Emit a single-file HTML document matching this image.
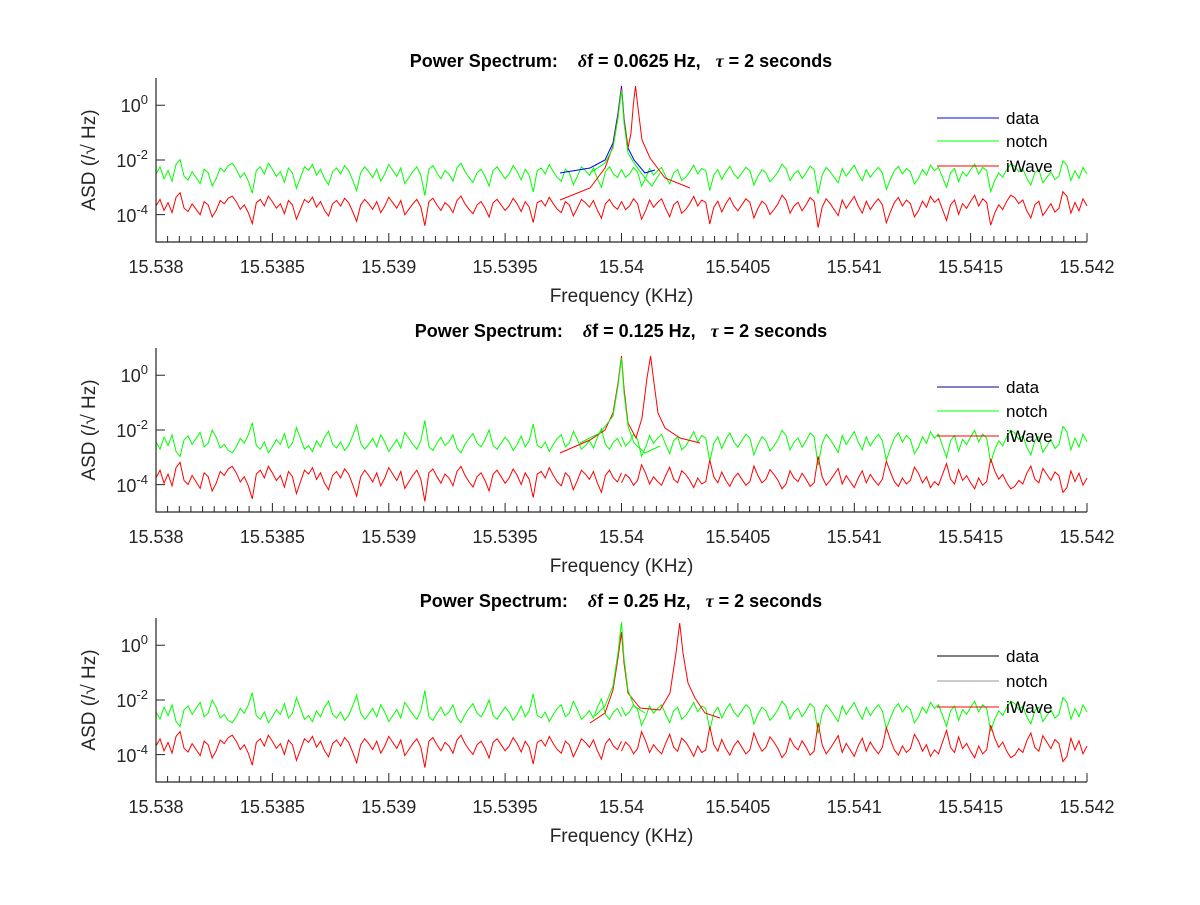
<!DOCTYPE html>
<html><head><meta charset="utf-8"><style>
body{margin:0;background:#fff;}
text{font-family:"Liberation Sans",sans-serif;fill:#262626;}
.t{font-size:18px;font-weight:bold;fill:#000;}
.k{font-size:18px;}
.l{font-size:19px;}
.g{font-size:17px;fill:#000;}
</style></head><body>
<svg width="1200" height="900" xmlns="http://www.w3.org/2000/svg" xmlns:xlink="http://www.w3.org/1999/xlink">
<defs>
<polyline id="n" fill="none" vector-effect="non-scaling-stroke" points="0,0 1,-6 2,4 3,-3 4,6 5,-8 6,-12 7,2 8,5 9,-2 10,3 11,8 12,-4 13,-1 14,10 15,4 16,-5 17,-2 18,-7 19,-9 20,-4 21,3 22,-1 23,6 24,16 25,-3 26,-6 27,0 28,-9 29,-4 30,2 31,-2 32,7 33,-5 34,-1 35,12 36,3 37,-6 38,-3 39,-8 40,1 41,-4 42,4 43,9 44,-2 45,-5 46,0 47,-7 48,-3 49,5 50,14 51,-1 52,-6 53,-2 54,3 55,-4 56,6 57,0 58,-8 59,-3 60,2 61,-5 62,8 63,3 64,-2 65,-6 66,1 67,18 68,-4 69,-7 70,-1 71,4 72,-3 73,0 74,6 75,-5 76,-9 77,-2 78,3 79,7 80,-1 81,-4 82,2 83,10 84,-3 85,-6 86,-1 87,4 88,0 89,-7 90,-2 91,5 92,-4 93,1 94,15 95,-3 96,-5 97,0 98,-8 99,-2 100,3 101,6 102,-4 103,-1 104,9 105,2 106,-6 107,-3 108,1 109,-5 110,4 111,11 112,-2 113,-6 114,0 115,3 116,-4"/>
<g id="ax" fill="none" stroke="#262626">
<path d="M156 0V164H1087" stroke-width="1.2"/>
<path d="M156 164v-9M272.4 164v-9M388.8 164v-9M505.1 164v-9M621.5 164v-9M737.9 164v-9M854.3 164v-9M970.6 164v-9M1087 164v-9M156 27.3h9M156 82h9M156 136.6h9"/>
<path d="M167.6 164v-6M179.3 164v-6M190.9 164v-6M202.6 164v-6M214.2 164v-6M225.8 164v-6M237.5 164v-6M249.1 164v-6M260.8 164v-6M284 164v-6M295.7 164v-6M307.3 164v-6M319 164v-6M330.6 164v-6M342.2 164v-6M353.9 164v-6M365.5 164v-6M377.2 164v-6M400.4 164v-6M412.1 164v-6M423.7 164v-6M435.4 164v-6M447 164v-6M458.6 164v-6M470.3 164v-6M481.9 164v-6M493.5 164v-6M516.8 164v-6M528.4 164v-6M540.1 164v-6M551.7 164v-6M563.4 164v-6M575 164v-6M586.6 164v-6M598.3 164v-6M609.9 164v-6M633.1 164v-6M644.8 164v-6M656.4 164v-6M668.1 164v-6M679.7 164v-6M691.4 164v-6M703 164v-6M714.6 164v-6M726.3 164v-6M749.6 164v-6M761.2 164v-6M772.8 164v-6M784.5 164v-6M796.1 164v-6M807.8 164v-6M819.4 164v-6M831 164v-6M842.7 164v-6M865.9 164v-6M877.6 164v-6M889.2 164v-6M900.8 164v-6M912.5 164v-6M924.1 164v-6M935.8 164v-6M947.4 164v-6M959 164v-6M982.3 164v-6M993.9 164v-6M1005.6 164v-6M1017.2 164v-6M1028.8 164v-6M1040.5 164v-6M1052.1 164v-6M1063.8 164v-6M1075.4 164v-6"/>
</g>
<g id="tx">
<text class="k" x="156" y="195" text-anchor="middle">15.538</text>
<text class="k" x="272.4" y="195" text-anchor="middle">15.5385</text>
<text class="k" x="388.8" y="195" text-anchor="middle">15.539</text>
<text class="k" x="505.1" y="195" text-anchor="middle">15.5395</text>
<text class="k" x="621.5" y="195" text-anchor="middle">15.54</text>
<text class="k" x="737.9" y="195" text-anchor="middle">15.5405</text>
<text class="k" x="854.3" y="195" text-anchor="middle">15.541</text>
<text class="k" x="970.6" y="195" text-anchor="middle">15.5415</text>
<text class="k" x="1087" y="195" text-anchor="middle">15.542</text>
<text class="k" x="148" y="34" text-anchor="end">10<tspan dy="-8" font-size="13">0</tspan></text>
<text class="k" x="148" y="89" text-anchor="end">10<tspan dy="-8" font-size="13">-2</tspan></text>
<text class="k" x="148" y="144" text-anchor="end">10<tspan dy="-8" font-size="13">-4</tspan></text>
<text class="l" transform="translate(95 82) rotate(-90)" text-anchor="middle">ASD (/√ Hz)</text>
<text class="l" x="621.5" y="224" text-anchor="middle">Frequency (KHz)</text>
</g>
</defs>

<!-- Panel 1 -->
<g transform="translate(0,78)">
<use xlink:href="#n" transform="translate(156,96) scale(4.013,1.2)" stroke="#00ff00"/>
<use xlink:href="#n" transform="translate(1087,96) scale(-4.013,1.1)" stroke="#00ff00"/>
<use xlink:href="#n" transform="translate(1087,128) scale(-4.013,1.2)" stroke="#ff0000"/>
<use xlink:href="#n" transform="translate(156,128) scale(4.013,1.1)" stroke="#ff0000"/>
<path d="M560 95L590 90L605 82L613 65L618 35L621.5 8L624 40L628 70L634 82L645 95L655 92" fill="none" stroke="#0000ff"/>
<path d="M560 122L590 110L605 90L613 68L618 38L621.5 10L624 42L628 70L631 55L633.5 25L635.5 8L638 30L642 62L650 80L665 100L690 110" fill="none" stroke="#ff0000"/>
<path d="M590 95L605 85L613 70L618 40L621.5 12L624 45L628 75L634 85L645 100L652 108L660 95" fill="none" stroke="#00ff00"/>
<use xlink:href="#ax"/><use xlink:href="#tx"/>
<text class="t" x="621" y="-11" text-anchor="middle">Power Spectrum:&#160;&#160;&#160; <tspan font-family="Liberation Serif" font-style="italic">δ</tspan>f = 0.0625 Hz,&#160;&#160; <tspan font-family="Liberation Serif" font-style="italic">τ</tspan> = 2 seconds</text>
<line x1="937" y1="40" x2="999" y2="40" stroke="#0000ff"/><text class="g" x="1006" y="46">data</text>
<line x1="937" y1="63" x2="999" y2="63" stroke="#00ff00"/><text class="g" x="1006" y="69">notch</text>
<line x1="937" y1="88" x2="999" y2="88" stroke="#ff0000"/><text class="g" x="1006" y="94">iWave</text>
</g>

<!-- Panel 2 -->
<g transform="translate(0,348)">
<use xlink:href="#n" transform="translate(1087,94) scale(-4.013,1.3)" stroke="#00ff00"/>
<use xlink:href="#n" transform="translate(156,94) scale(4.013,-1.2)" stroke="#00ff00"/>
<use xlink:href="#n" transform="translate(156,130) scale(4.013,1.3)" stroke="#ff0000"/>
<use xlink:href="#n" transform="translate(1087,130) scale(-4.013,-1.2)" stroke="#ff0000"/>
<path d="M560 105L590 92L605 82L613 65L618 35L621.5 8L624 40L628 75L636 90L642 70L647 30L650.6 8L654 35L658 65L665 80L680 90L700 95" fill="none" stroke="#ff0000"/>
<path d="M580 95L600 85L613 68L618 38L621.5 10L624 45L628 78L634 95L645 105L660 98" fill="none" stroke="#00ff00"/>
<use xlink:href="#ax"/><use xlink:href="#tx"/>
<text class="t" x="621" y="-11" text-anchor="middle">Power Spectrum:&#160;&#160;&#160; <tspan font-family="Liberation Serif" font-style="italic">δ</tspan>f = 0.125 Hz,&#160;&#160; <tspan font-family="Liberation Serif" font-style="italic">τ</tspan> = 2 seconds</text>
<line x1="937" y1="39" x2="999" y2="39" stroke="#000080"/><text class="g" x="1006" y="45">data</text>
<line x1="937" y1="63" x2="999" y2="63" stroke="#00ff00"/><text class="g" x="1006" y="69">notch</text>
<line x1="937" y1="88" x2="999" y2="88" stroke="#ff0000"/><text class="g" x="1006" y="94">iWave</text>
</g>

<!-- Panel 3 -->
<g transform="translate(0,618)">
<use xlink:href="#n" transform="translate(156,94) scale(4.013,-1.2)" stroke="#00ff00"/>
<use xlink:href="#n" transform="translate(1087,94) scale(-4.013,1.2)" stroke="#00ff00"/>
<use xlink:href="#n" transform="translate(1087,128) scale(-4.013,-1.3)" stroke="#ff0000"/>
<use xlink:href="#n" transform="translate(156,128) scale(4.013,1.2)" stroke="#ff0000"/>
<path d="M590 105L605 95L613 72L618 40L621.5 14L624 45L628 75L640 90L660 92L670 75L676 35L679.7 5L683 35L688 65L695 80L705 95L720 100" fill="none" stroke="#ff0000"/>
<path d="M595 98L605 88L613 68L618 35L621.5 4L624 40L628 72L634 88L645 95" fill="none" stroke="#00ff00"/>
<use xlink:href="#ax"/><use xlink:href="#tx"/>
<text class="t" x="621" y="-11" text-anchor="middle">Power Spectrum:&#160;&#160;&#160; <tspan font-family="Liberation Serif" font-style="italic">δ</tspan>f = 0.25 Hz,&#160;&#160; <tspan font-family="Liberation Serif" font-style="italic">τ</tspan> = 2 seconds</text>
<line x1="937" y1="38" x2="999" y2="38" stroke="#000000"/><text class="g" x="1006" y="44">data</text>
<line x1="937" y1="63" x2="999" y2="63" stroke="#999999"/><text class="g" x="1006" y="69">notch</text>
<line x1="937" y1="89" x2="999" y2="89" stroke="#ff0000"/><text class="g" x="1006" y="95">iWave</text>
</g>
</svg>
</body></html>
